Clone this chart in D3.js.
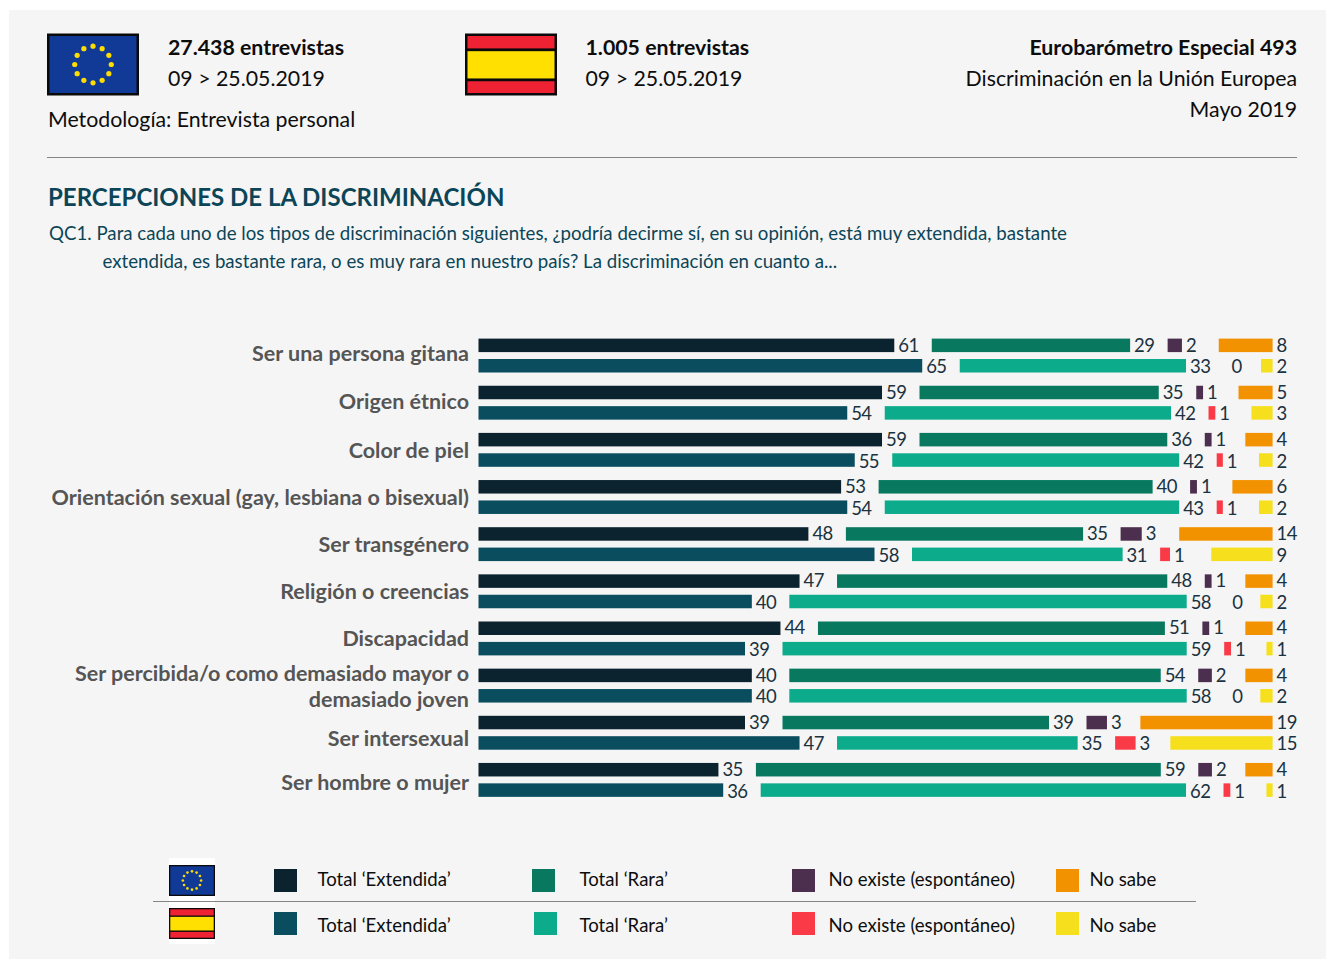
<!DOCTYPE html>
<html><head><meta charset="utf-8">
<script src="https://cdn.jsdelivr.net/npm/d3@7"></script>
<style>html,body{margin:0;padding:0;background:#fff}svg{display:block}text{font-family:Lato,sans-serif}</style>
</head><body><svg id="c" width="1326" height="959"></svg>
<script>
const categories=["Ser una persona gitana","Origen étnico","Color de piel","Orientación sexual (gay, lesbiana o bisexual)","Ser transgénero","Religión o creencias","Discapacidad","Ser percibida/o como demasiado mayor o|demasiado joven","Ser intersexual","Ser hombre o mujer"];
const euExtendida=[61.0,59.2,59.2,53.2,48.4,47.1,44.3,40.1,39.1,35.2];
const euRara=[29.1,35.1,36.35,40.2,34.8,48.45,50.9,54.49,39.1,59.4];
const euNoExiste=[2.1,1.0,1.0,1.0,3.1,1.0,1.0,2.0,3.0,2.0];
const euNoSabe=[7.9,5.0,4.0,5.9,13.7,4.0,4.0,4.0,19.4,4.0];
const esExtendida=[65.1,54.1,55.2,54.1,58.1,40.1,39.1,40.1,47.1,35.9];
const esRara=[33.2,42.0,42.1,43.2,30.9,58.3,59.3,58.3,35.3,62.4];
const esNoExiste=[0,1.0,0.9,0.9,1.45,0,1.0,0,3.0,1.0];
const esNoSabe=[1.7,3.1,2.0,2.0,9.0,1.8,0.9,1.8,15.0,0.9];
const seriesNames=["Total ‘Extendida’","Total ‘Rara’","No existe (espontáneo)","No sabe"];
const euColors=["#0b232e","#08795f","#4c2e4e","#f39200"];
const esColors=["#0a4d5e","#0bab8b","#fb3a47","#f6df1d"];
const labelNudge=[-2.5,-1.5,0.5,0.5,0,0,0,0,5,2];

const svg=d3.select("#c");
svg.append("rect").attr("x",9).attr("y",10).attr("width",1317).attr("height",949).attr("fill","#f5f5f5");

function txt(x,y,s,size,color,weight,anchor){
  return svg.append("text").attr("x",x).attr("y",y).attr("font-size",size).attr("fill",color)
    .attr("font-weight",weight||400).attr("text-anchor",anchor||"start").text(s);
}
function euFlag(x,y,w,h,sw){
  const g=svg.append("g");
  g.append("rect").attr("x",x+sw/2).attr("y",y+sw/2).attr("width",w-sw).attr("height",h-sw).attr("fill","#103a96").attr("stroke","#0a0a0a").attr("stroke-width",sw);
  const r=h*0.295;
  d3.range(12).forEach(i=>{const a=i*Math.PI/6;
    g.append("circle").attr("cx",x+w/2+r*Math.sin(a)).attr("cy",y+h/2-r*Math.cos(a)).attr("r",h*0.042).attr("fill","#ffdd00");});
}
function esFlag(x,y,w,h,sw){
  const g=svg.append("g");
  g.append("rect").attr("x",x).attr("y",y).attr("width",w).attr("height",h).attr("fill","#0a0a0a");
  g.append("rect").attr("x",x+sw).attr("y",y+sw).attr("width",w-2*sw).attr("height",h*0.2).attr("fill","#ef2233");
  g.append("rect").attr("x",x+sw).attr("y",y+h*0.285).attr("width",w-2*sw).attr("height",h*0.44).attr("fill","#ffe000");
  g.append("rect").attr("x",x+sw).attr("y",y+h*0.77).attr("width",w-2*sw).attr("height",h*0.23-sw).attr("fill","#ef2233");
}
// header
const hs=21.3, ink="#0d0d0d";
euFlag(47,33.5,92,62,2.5);
esFlag(465,33.5,92,62,2.5);
txt(168,55,"27.438 entrevistas",hs,ink,700);
txt(168,86,"09 > 25.05.2019",hs,ink);
txt(585.5,55,"1.005 entrevistas",hs,ink,700);
txt(585.5,86,"09 > 25.05.2019",hs,ink);
txt(48,127,"Metodología: Entrevista personal",hs,ink);
txt(1297,55,"Eurobarómetro Especial 493",hs,ink,700,"end");
txt(1297,86,"Discriminación en la Unión Europea",hs,ink,400,"end");
txt(1297,117,"Mayo 2019",hs,ink,400,"end");
svg.append("line").attr("x1",47).attr("x2",1297).attr("y1",157.5).attr("y2",157.5).attr("stroke","#858585");
txt(48,206,"PERCEPCIONES DE LA DISCRIMINACIÓN",24,"#0b4557",700);
txt(49,240,"QC1. Para cada uno de los tipos de discriminación siguientes, ¿podría decirme sí, en su opinión, está muy extendida, bastante",18.68,"#0b4557");
txt(102.5,268,"extendida, es bastante rara, o es muy rara en nuestro país? La discriminación en cuanto a...",18.68,"#0b4557");

// chart
const x=d3.scaleLinear().domain([0,100]).range([0,681.6]);
const gap=37.5, x0=478.5, xEnd=x0+x(100)+3*gap;
const y=d3.scaleBand().domain(categories).range([338.6,338.6+47.15*10]);
const barH=13.5, esOff=20.4;
const rows=[
 {vals:[euExtendida,euRara,euNoExiste,euNoSabe],colors:euColors,off:0,labelDy:-0.3},
 {vals:[esExtendida,esRara,esNoExiste,esNoSabe],colors:esColors,off:esOff,labelDy:1}
];
rows.forEach(row=>{
  categories.forEach(c=>{
    const ci=categories.indexOf(c);
    let cum=0;
    const g=svg.append("g");
    row.vals.forEach((arr,si)=>{
      const v=arr[ci], w=x(v), by=y(c)+row.off;
      const bx=si===3 ? xEnd-w : x0+x(cum)+gap*si;
      if(v>0) g.append("rect").attr("x",bx).attr("y",by).attr("width",w).attr("height",barH).attr("fill",row.colors[si]);
      g.append("text").attr("x",bx+w+(v===0?8:4)).attr("y",by+barH/2+6.5+row.labelDy)
        .attr("font-size",18.5).attr("letter-spacing",-0.6).attr("fill","#1b3240").text(Math.round(v));
      cum+=v;
    });
  });
});
categories.forEach((c,ci)=>{
  const parts=c.split("|"), cy=y(c)+(barH+esOff)/2+labelNudge[ci]+0.4;
  parts.forEach((p,i)=>{
    txt(469,cy+7.5+(i-(parts.length-1)/2)*26,p,21.5,"#555555",700,"end");
  });
});

// legend
svg.append("rect").attr("x",169).attr("y",858).attr("width",46).attr("height",86).attr("fill","#fff");
euFlag(169,865,46,31,1.3);
esFlag(169,908,46,31,1.3);
svg.append("line").attr("x1",153).attr("x2",1196).attr("y1",901.5).attr("y2",901.5).attr("stroke","#858585");
const swatchX=[[274,532,792,1056],[274,534,792,1056]];
const labelX=[317.5,579.5,828.5,1089.5];
[[euColors,869,886],[esColors,912,932]].forEach((r,ri)=>{
  seriesNames.forEach((n,i)=>{
    svg.append("rect").attr("x",swatchX[ri][i]).attr("y",r[1]).attr("width",23).attr("height",23).attr("fill",r[0][i]);
    txt(labelX[i],r[2],n,18.6,ink);
  });
});
</script></body></html>
